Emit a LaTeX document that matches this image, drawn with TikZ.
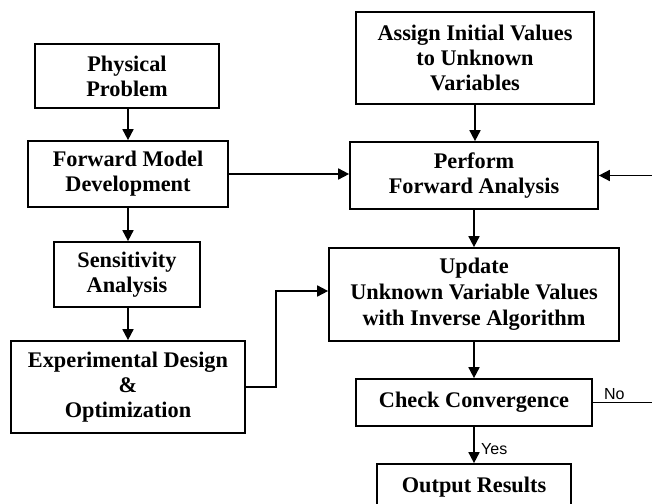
\documentclass[tikz,border=0pt]{standalone}
\usepackage{fontspec}
\setmainfont{Liberation Serif}
\newfontfamily\labelfont{Liberation Sans}
\usetikzlibrary{arrows.meta,calc}

\begin{document}
\begin{tikzpicture}[
  x=1pt, y=-1pt,
  box/.style={draw, line width=1.7pt, rectangle, align=center, inner sep=0pt,
    font=\fontsize{22.3}{25}\selectfont\bfseries},
  widebox/.style={box, font=\fontsize{22.3}{26}\selectfont\bfseries},
  link/.style={line width=1.7pt, -{Triangle[length=11pt, width=11pt]}},
  tag/.style={font=\labelfont\fontsize{16}{18}\selectfont, inner sep=0pt}
]
\useasboundingbox (0,0) rectangle (652,503);
\clip (0,0) rectangle (652,503);

% left column: model preparation
\node[box, minimum width=184pt, minimum height=64pt] (phys) at (127,76) {Physical\\Problem};
\node[box, minimum width=200pt, minimum height=66pt] (fmd) at (128,174) {Forward Model\\Development};
\node[box, minimum width=146pt, minimum height=65pt] (sens) at (127,274.5) {Sensitivity\\Analysis};
\node[box, minimum width=234pt, minimum height=92pt] (exp) at (128,387) {Experimental Design\\\&\\Optimization};

% right column: inverse loop
\node[box, minimum width=238pt, minimum height=92pt] (assign) at (475,58) {Assign Initial Values\\to Unknown\\Variables};
\node[box, minimum width=248pt, minimum height=67pt] (perf) at (474,175.5) {Perform\\Forward Analysis};
\node[widebox, minimum width=290pt, minimum height=93pt] (upd) at (474,294.5) {Update\\Unknown Variable Values\\with Inverse Algorithm};
\node[box, minimum width=236pt, minimum height=47pt] (chk) at (474,402.5) {Check Convergence};
\node[box, minimum width=194pt, minimum height=46pt] (out) at (474,487) {Output Results};

% connectors
\draw[link] (phys.south -| fmd.north) -- (fmd.north);
\draw[link] (fmd.south) -- (sens.north -| fmd.south);
\draw[link] (sens.south -| exp.north) -- (exp.north);
\draw[link] (fmd.east) -- (fmd.east -| perf.west);
\draw[link] (exp.east) -- ++(30,0) |- (upd.west |- 0,291);
\draw[link] (assign.south) -- (perf.north -| assign.south);
\draw[link] (perf.south) -- (upd.north);
\draw[link] (upd.south) -- (chk.north);
\draw[link] (chk.south) -- (out.north);
\node[tag, anchor=west] (yes) at ($(chk.south)!0.6!(out.north) + (7,0)$) {Yes};
\coordinate (loop) at (656,0);
\draw[link] (chk.east) -- (chk.east -| loop) -- (perf.east -| loop) -- (perf.east);
\node[tag, anchor=south west] (no) at ([xshift=11pt, yshift=3pt]chk.east) {No};
\end{tikzpicture}
\end{document}
